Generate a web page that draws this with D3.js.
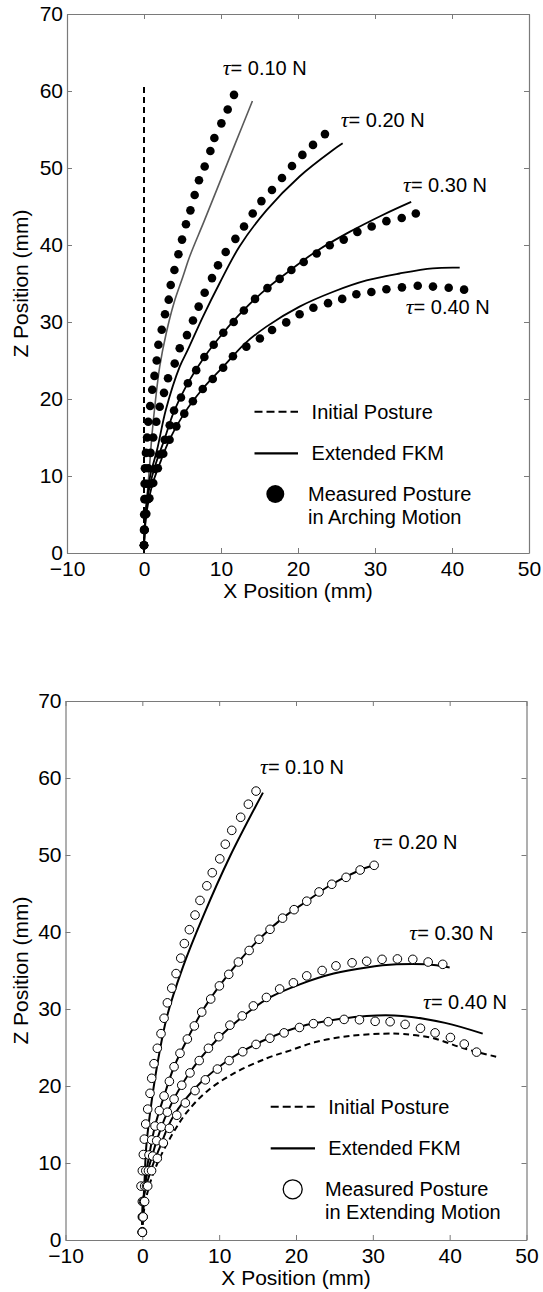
<!DOCTYPE html>
<html>
<head>
<meta charset="utf-8">
<script src="https://cdn.jsdelivr.net/npm/d3@7"></script>
<style>
  html, body { margin: 0; padding: 0; background: #fff; }
  svg { display: block; }
  text { font-family: "Liberation Sans", Arial, Helvetica, sans-serif; fill: #000; }
</style>
</head>
<body>
<svg id="chart" width="543" height="1292"></svg>
<script>
// ---------------- DATA ----------------
const xTicks = [-10, 0, 10, 20, 30, 40, 50];
const yTicks = [0, 10, 20, 30, 40, 50, 60, 70];
const forceLabels = ["0.10", "0.20", "0.30", "0.40"];
const xTitle = "X Position (mm)";
const yTitle = "Z Position (mm)";
const legendInitial = "Initial Posture";
const legendFkm = "Extended FKM";
const legendArch = ["Measured Posture", "in Arching Motion"];
const legendExt = ["Measured Posture", "in Extending Motion"];

// Arching motion (top panel): measured postures [x, z] in mm
const archDots010 = [[0,1.0],[0,3.0],[0.02,5.0],[0.05,7.0],[0.08,9.0],[0.12,11.0],[0.25,13.0],[0.4,15.0],[0.55,17.05],[0.8,19.1],[1.07,21.2],[1.36,23.0],[1.65,25.0],[1.87,27.05],[2.3,29.0],[2.73,31.0],[3.21,32.9],[3.47,34.8],[3.95,36.75],[4.47,38.8],[4.94,40.7],[5.45,42.7],[6.03,44.5],[6.58,46.5],[7.14,48.4],[7.88,50.2],[8.62,52.2],[9.14,53.9],[10.05,55.8],[10.87,57.6],[11.69,59.5]];
const archDots020 = [[0,1],[0.03,3],[0.1,5],[0.2,7],[0.35,9],[0.55,11],[0.85,13],[1.2,15],[1.6,17.05],[2.04,19.0],[2.6,20.8],[3.12,22.7],[3.99,24.6],[4.64,26.6],[5.58,28.3],[6.36,30.2],[7.10,32.0],[7.88,33.8],[8.83,35.7],[9.61,37.36],[10.61,39.1],[11.87,40.8],[12.99,42.4],[14.12,44.1],[15.25,45.7],[16.62,47.14],[17.92,48.7],[19.22,50.26],[20.57,51.7],[21.95,53.0],[23.5,54.4]];
const archDots030 = [[0,1],[0.05,3],[0.2,5],[0.5,7],[0.9,9],[1.4,10.9],[2.0,12.8],[2.69,14.7],[3.34,16.6],[3.9,18.5],[4.8,20.2],[5.7,22.05],[6.78,23.75],[7.84,25.45],[9.05,27.05],[10.3,28.6],[11.65,30.0],[12.97,31.5],[14.42,33.0],[16.03,34.4],[17.62,35.6],[19.14,36.75],[20.74,37.8],[22.43,38.9],[24.12,39.96],[25.94,40.7],[27.71,41.7],[29.57,42.4],[31.48,43.1],[33.47,43.5],[35.3,44.1]];
const archDots040 = [[0,1],[0.1,3],[0.3,5.1],[0.7,7.1],[1.2,9.1],[1.8,11],[2.5,12.9],[3.32,14.7],[4.2,16.45],[5.23,18.1],[6.35,19.7],[7.63,21.3],[8.93,22.6],[10.28,24.05],[11.55,25.55],[13.29,26.8],[15.05,27.85],[16.63,28.96],[18.47,29.95],[20.21,31.0],[22.0,31.85],[23.9,32.45],[25.74,33.0],[27.58,33.6],[29.53,33.9],[31.48,34.25],[33.5,34.5],[35.55,34.7],[37.53,34.6],[39.57,34.45],[41.57,34.2]];
// Arching motion: extended FKM curves
const archFkm010 = [[0,1],[0.3,6],[0.7,11],[1.05,15.5],[1.5,19.9],[2.04,24.2],[2.9,28.6],[3.9,32.5],[5.06,35.9],[5.93,38.5],[7.77,43.0],[9.78,48.0],[11.86,53.2],[14.08,58.7]];
const archFkm020 = [[0,1],[0.3,6],[0.8,10],[1.7,13.4],[2.84,18.6],[4.64,24.2],[5.7,26.4],[7.66,30.7],[9.8,35.0],[12.4,39.8],[15.9,44.5],[20.2,48.9],[24.5,52.3],[25.8,53.2]];
const archFkm030 = [[0,1],[0.2,5],[0.7,8.5],[1.5,11.5],[2.6,14.6],[3.9,18.4],[5.6,21.9],[7.8,25.4],[10.3,28.6],[12.9,31.5],[16.0,34.4],[19.1,36.8],[22.4,39.2],[26.7,41.7],[31.0,43.9],[34.7,45.6]];
const archFkm040 = [[0,1],[0.3,5],[1.0,8.6],[2.2,12],[3.3,14.7],[5.2,18.1],[7.6,21.3],[10.3,24.2],[13.1,27.2],[15.9,29.4],[20.2,32.0],[24.5,33.9],[28.9,35.4],[33.2,36.3],[37.5,36.97],[41.0,37.05]];
const archInitial = [[0,0],[0,61]];

// Extending motion (bottom panel): measured postures [x, z] in mm
const extDots010 = [[0,1.08],[0,3.0],[0,5.0],[-0.17,7.0],[0,9.0],[0.13,11.1],[0.26,13.1],[0.44,15.06],[0.7,17.0],[1.0,19.05],[1.22,21.0],[1.52,22.9],[1.95,24.9],[2.43,26.8],[2.83,28.8],[3.26,30.8],[3.83,32.7],[4.39,34.6],[5.0,36.6],[5.47,38.5],[6.12,40.3],[6.86,42.2],[7.5,44.1],[8.4,46.0],[9.1,47.7],[10.08,49.5],[10.8,51.4],[11.64,53.2],[12.8,54.9],[13.8,56.6],[14.8,58.3]];
const extDots020 = [[0,1],[0.05,3],[0.15,5],[0.3,7],[0.45,9],[0.87,11.04],[1.22,13.0],[1.65,14.8],[2.21,16.8],[2.83,18.7],[3.52,20.6],[4.13,22.5],[4.9,24.25],[5.86,26.1],[6.77,27.8],[7.73,29.6],[8.9,31.3],[10.03,33.0],[11.25,34.5],[12.5,36.1],[13.9,37.6],[15.18,39.05],[16.62,40.35],[18.25,41.8],[19.75,42.9],[21.4,44.0],[23.0,45.2],[24.66,46.2],[26.52,47.1],[28.35,48.05],[30.17,48.66]];
const extDots030 = [[0,1],[0.1,3],[0.25,5],[0.55,7],[0.8,9],[1.35,10.9],[1.87,12.9],[2.47,14.7],[3.26,16.6],[4.13,18.3],[5.13,20.1],[6.2,21.7],[7.4,23.3],[8.6,24.9],[9.95,26.4],[11.4,27.9],[13.0,29.1],[14.45,30.4],[16.15,31.5],[17.87,32.6],[19.66,33.4],[21.4,34.3],[23.4,35.0],[25.2,35.6],[27.3,36.0],[29.2,36.2],[31.2,36.45],[33.2,36.5],[35.2,36.45],[37.2,36.1],[39.1,35.8]];
const extDots040 = [[0,1],[0.1,3],[0.3,5],[0.7,7],[1.2,9],[1.95,10.6],[2.73,12.6],[3.52,14.5],[4.48,16.2],[5.6,17.8],[6.86,19.4],[8.2,20.8],[9.77,22.2],[11.3,23.3],[13.07,24.45],[14.8,25.4],[16.6,26.2],[18.45,26.9],[20.45,27.6],[22.27,28.1],[24.2,28.35],[26.26,28.65],[28.26,28.6],[30.3,28.4],[32.25,28.35],[34.2,28.0],[36.2,27.5],[38.1,26.9],[40.1,26.3],[41.9,25.45],[43.5,24.4]];
// Extending motion: extended FKM curves
const extFkm010 = [[0,2],[0.3,8],[0.5,12],[1.0,16.45],[1.9,22.5],[3.2,29.0],[5.3,35.5],[7.9,42.0],[11.4,49.8],[15.7,58.1]];
const extFkm020 = [[0,2],[0.4,8],[0.9,11],[1.65,14.8],[2.83,18.7],[4.13,22.5],[5.86,26.1],[7.73,29.6],[10.03,33.0],[12.5,36.1],[15.18,39.05],[18.25,41.8],[21.4,44.0],[24.66,46.2],[28.35,48.05],[29.9,48.6]];
const extFkm030 = [[0,2],[0.5,8],[1.3,11],[1.9,13.0],[3.2,16.45],[5.8,21.2],[9.7,26.0],[14.2,29.9],[16.6,31.5],[20.5,33.2],[24.9,34.6],[29.2,35.4],[33.1,35.8],[37.0,35.8],[40.0,35.4]];
const extFkm040 = [[0,2],[0.1,5.2],[1.0,8.7],[2.3,12.1],[4.0,16.0],[7.5,20.35],[11.85,23.8],[16.2,26.1],[20.5,27.7],[25.7,28.7],[29.2,29.1],[33.8,29.1],[39.4,28.2],[44.3,26.8]];
const extInitial = [[0,2],[0.4,5],[1.2,8],[2.2,10.5],[4.0,13.9],[5.8,16.6],[8.4,19.3],[11.85,21.6],[16.2,23.6],[19.2,24.6],[22.7,25.75],[27.0,26.5],[31.4,26.8],[34.0,26.75],[37.9,26.2],[41.8,24.9],[46.05,23.8]];

// ---------------- LAYOUT ----------------
const svg = d3.select("#chart");
const AXIS_GRAY = "#7a7a7a";

const panels = [
  {
    box: {left: 67, right: 529, top: 14, bottom: 553},
    dots: [archDots010, archDots020, archDots030, archDots040],
    fkm: [archFkm010, archFkm020, archFkm030, archFkm040],
    fkmColors: ["#5a5a5a", "#000", "#000", "#000"],
    fkmWidths: [1.6, 1.8, 1.8, 1.8],
    initial: archInitial,
    filled: true,
    labelPos: [[222.7, 68.3], [340.7, 120], [403, 185], [405.7, 306.7]],
    legend: {x1: 254.5, x2: 298, yDash: 411.7, ySolid: 453.3, markerX: 275.3, yMarker: 494, textX: 311.6, markerTextX: 308, y2: 516.7},
    legendText: legendArch
  },
  {
    box: {left: 65.5, right: 526.5, top: 701, bottom: 1240},
    dots: [extDots010, extDots020, extDots030, extDots040],
    fkm: [extFkm010, extFkm020, extFkm030, extFkm040],
    fkmColors: ["#000", "#000", "#000", "#000"],
    fkmWidths: [2, 2, 2, 2],
    initial: extInitial,
    filled: false,
    labelPos: [[260, 767], [373.3, 841.7], [409.3, 933.3], [423, 1001.5]],
    legend: {x1: 270.7, x2: 315, yDash: 1106.7, ySolid: 1148.3, markerX: 292.7, yMarker: 1189.3, textX: 328.3, markerTextX: 325, y2: 1211.7},
    legendText: legendExt
  }
];

function drawPanel(p) {
  const b = p.box;
  const x = d3.scaleLinear().domain([-10, 50]).range([b.left, b.right]);
  const y = d3.scaleLinear().domain([0, 70]).range([b.bottom, b.top]);
  const g = svg.append("g");

  // axes (MATLAB-like box with inward ticks)
  const styleAxis = sel => {
    sel.select(".domain").attr("stroke", AXIS_GRAY).attr("stroke-width", 1.2);
    sel.selectAll(".tick line").attr("stroke", AXIS_GRAY).attr("stroke-width", 1);
    sel.selectAll("text").style("font-size", "21px").attr("fill", "#000")
       .style("font-family", "'Liberation Sans', Arial, sans-serif");
  };
  g.append("g").attr("transform", `translate(0,${b.bottom})`)
    .call(d3.axisBottom(x).tickValues(xTicks).tickSizeInner(-5).tickSizeOuter(0).tickPadding(8).tickFormat(d3.format("d")))
    .call(styleAxis);
  g.append("g").attr("transform", `translate(0,${b.top})`)
    .call(d3.axisTop(x).tickValues(xTicks).tickSizeInner(-5).tickSizeOuter(0).tickFormat(""))
    .call(styleAxis);
  g.append("g").attr("transform", `translate(${b.left},0)`)
    .call(d3.axisLeft(y).tickValues(yTicks).tickSizeInner(-5).tickSizeOuter(0).tickPadding(4).tickFormat(d3.format("d")))
    .call(styleAxis);
  g.append("g").attr("transform", `translate(${b.right},0)`)
    .call(d3.axisRight(y).tickValues(yTicks).tickSizeInner(-5).tickSizeOuter(0).tickFormat(""))
    .call(styleAxis);

  // axis titles
  g.append("text").attr("x", (b.left + b.right) / 2).attr("y", b.bottom + 45)
    .attr("text-anchor", "middle").style("font-size", "21px").text(xTitle);
  g.append("text").attr("transform", `translate(28,${(b.top + b.bottom) / 2}) rotate(-90)`)
    .attr("text-anchor", "middle").style("font-size", "21px").text(yTitle);

  const line = d3.line().x(d => x(d[0])).y(d => y(d[1])).curve(d3.curveCatmullRom.alpha(0.5));

  // initial posture
  g.append("path").datum(p.initial).attr("d", line)
    .attr("fill", "none").attr("stroke", "#000").attr("stroke-width", 2)
    .attr("stroke-dasharray", "6,4");

  // FKM curves
  p.fkm.forEach((c, i) => {
    g.append("path").datum(c).attr("d", line)
      .attr("fill", "none").attr("stroke", p.fkmColors[i]).attr("stroke-width", p.fkmWidths[i]);
  });

  // measured postures
  p.dots.forEach(series => {
    g.append("g").selectAll("circle").data(series).join("circle")
      .attr("cx", d => x(d[0])).attr("cy", d => y(d[1]))
      .attr("r", 4.3)
      .attr("fill", p.filled ? "#000" : "#fff")
      .attr("stroke", "#000").attr("stroke-width", p.filled ? 0 : 1);
  });

  // tau labels
  forceLabels.forEach((lab, i) => {
    const [lx, ly] = p.labelPos[i];
    const t = g.append("text").attr("x", lx).attr("y", ly + 7).style("font-size", "20px");
    t.append("tspan").style("font-family", "'Liberation Serif', 'DejaVu Serif', serif")
      .style("font-style", "italic").style("font-size", "22px").text("\u03C4");
    t.append("tspan").text("= " + lab + " N");
  });

  // legend
  const L = p.legend;
  g.append("line").attr("x1", L.x1).attr("x2", L.x2).attr("y1", L.yDash).attr("y2", L.yDash)
    .attr("stroke", "#000").attr("stroke-width", 2).attr("stroke-dasharray", "8,4");
  g.append("text").attr("x", L.textX).attr("y", L.yDash + 7).style("font-size", "20px").text(legendInitial);
  g.append("line").attr("x1", L.x1).attr("x2", L.x2).attr("y1", L.ySolid).attr("y2", L.ySolid)
    .attr("stroke", "#000").attr("stroke-width", 2.2);
  g.append("text").attr("x", L.textX).attr("y", L.ySolid + 7).style("font-size", "20px").text(legendFkm);
  g.append("circle").attr("cx", L.markerX).attr("cy", L.yMarker).attr("r", p.filled ? 9 : 9.5)
    .attr("fill", p.filled ? "#000" : "#fff").attr("stroke", "#000").attr("stroke-width", p.filled ? 0 : 1.3);
  g.append("text").attr("x", L.markerTextX).attr("y", L.yMarker + 7).style("font-size", "20px").text(p.legendText[0]);
  g.append("text").attr("x", L.markerTextX).attr("y", L.y2 + 7).style("font-size", "20px").text(p.legendText[1]);
}

panels.forEach(drawPanel);
</script>
</body>
</html>
